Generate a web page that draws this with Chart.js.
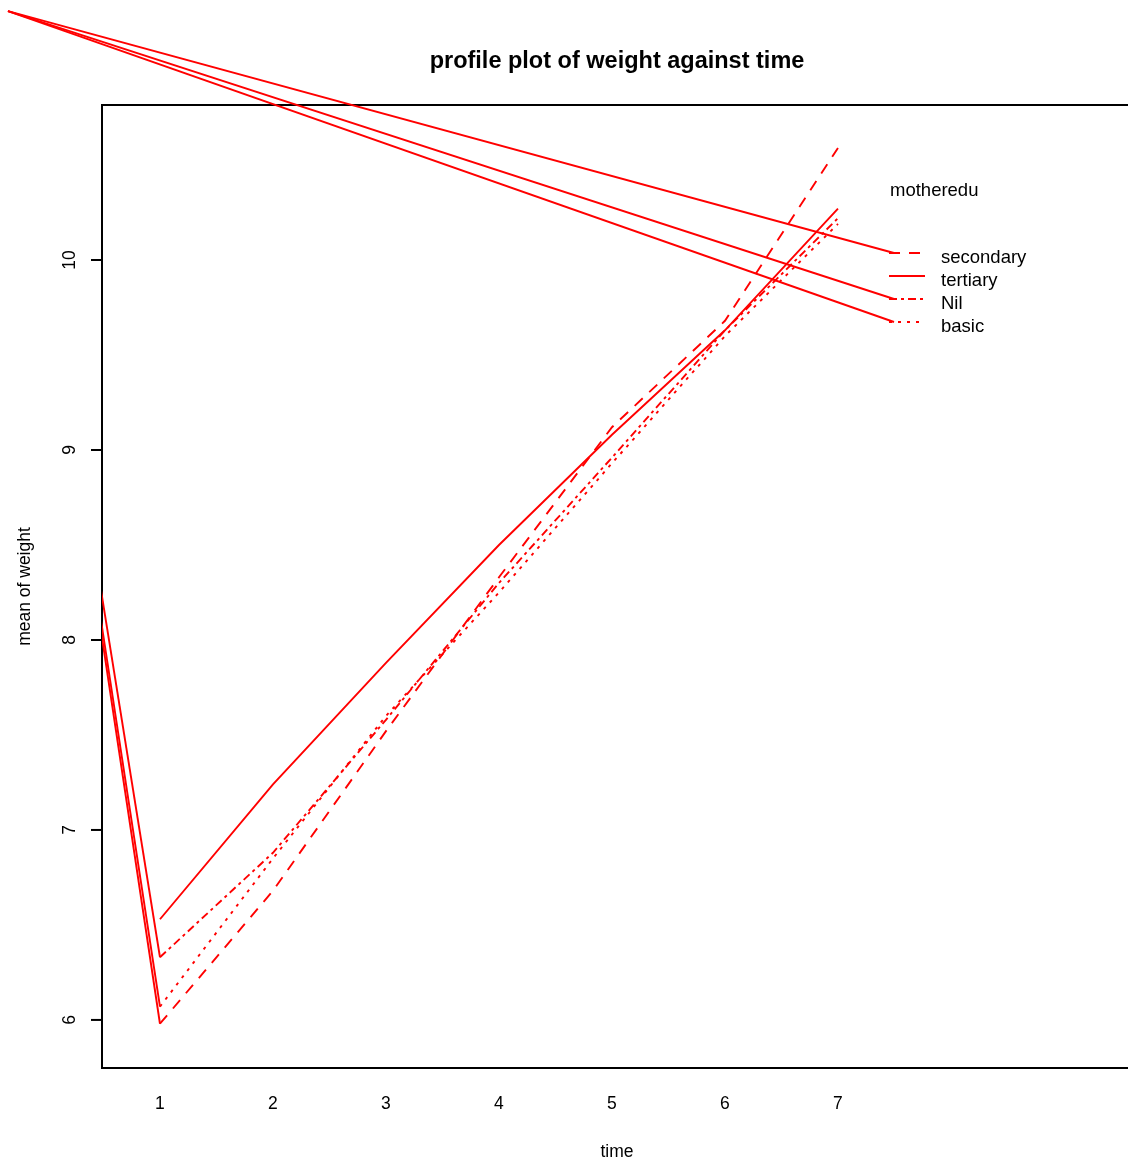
<!DOCTYPE html>
<html>
<head>
<meta charset="utf-8">
<script src="https://cdn.jsdelivr.net/npm/chart.js@4/dist/chart.umd.min.js"></script>
<style>
  html, body { margin: 0; padding: 0; background: #fff; overflow: hidden; }
  canvas { display: block; }
</style>
</head>
<body>
<canvas id="c" width="1140" height="1163" style="width:1140px;height:1163px"></canvas>
<script>
// Mean weight by time for each level of mother's education
const timePoints = [1, 2, 3, 4, 5, 6, 7];
const timeLabels = ['1', '2', '3', '4', '5', '6', '7'];
const weightTicks = [6, 7, 8, 9, 10];
const groupNames = ['secondary', 'tertiary', 'Nil', 'basic'];
const secondary = [5.98, 6.68, 7.52, 8.33, 9.12, 9.68, 10.59];
const tertiary  = [6.53, 7.24, 7.88, 8.50, 9.08, 9.63, 10.27];
const nil       = [6.33, 6.88, 7.58, 8.30, 8.96, 9.63, 10.22];
const basic     = [6.07, 6.85, 7.60, 8.25, 8.93, 9.60, 10.19];
// point the device pen started from before tracing some of the groups
const penOrigin = { time: -0.345, weight: 11.31 };
const groupsWithStrayPen = ['secondary', 'Nil', 'basic'];

const groupValues = { secondary, tertiary, Nil: nil, basic };
const RED = '#ff0000';
const LINE_W = 1.9;
const dashFor = {
  secondary: [11, 9],
  tertiary: [],
  Nil: [8, 4, 3, 4],
  basic: [3, 6]
};
const FONT = '"Liberation Sans", Arial, Helvetica, sans-serif';

const datasets = [];
groupNames.forEach(name => {
  const vals = groupValues[name];
  datasets.push({
    label: name,
    data: timePoints.map((t, i) => ({ x: t, y: vals[i] })),
    borderColor: RED,
    borderWidth: LINE_W,
    borderDash: dashFor[name],
    pointRadius: 0,
    fill: false,
    tension: 0
  });
  if (groupsWithStrayPen.includes(name)) {
    datasets.push({
      label: name + ' pen',
      data: [{ x: penOrigin.time, y: penOrigin.weight }, { x: timePoints[0], y: vals[0] }],
      borderColor: RED,
      borderWidth: LINE_W,
      pointRadius: 0,
      fill: false,
      tension: 0
    });
  }
});

// Frame, axes, titles and the group key
const decor = {
  id: 'decor',
  beforeDatasetsDraw(chart) {
    const { ctx, chartArea: a, scales: { x, y } } = chart;
    ctx.save();
    ctx.strokeStyle = '#000';
    ctx.lineWidth = 2;
    ctx.strokeRect(a.left, a.top, a.right - a.left, a.bottom - a.top);

    ctx.fillStyle = '#000';
    ctx.font = '17.5px ' + FONT;
    ctx.textAlign = 'center';
    ctx.textBaseline = 'middle';
    weightTicks.forEach(v => {
      const py = y.getPixelForValue(v);
      ctx.beginPath();
      ctx.moveTo(a.left - 11, py);
      ctx.lineTo(a.left, py);
      ctx.stroke();
      ctx.save();
      ctx.translate(a.left - 32, py);
      ctx.rotate(-Math.PI / 2);
      ctx.fillText(String(v), 0, 0);
      ctx.restore();
    });
    timePoints.forEach((t, i) => {
      ctx.fillText(timeLabels[i], x.getPixelForValue(t), a.bottom + 36);
    });
    const cx = (a.left + a.right) / 2;
    ctx.fillText('time', cx, a.bottom + 84);
    ctx.save();
    ctx.translate(25, (a.top + a.bottom) / 2);
    ctx.rotate(-Math.PI / 2);
    ctx.fillText('mean of weight', 0, 0);
    ctx.restore();

    ctx.font = 'bold 23.5px ' + FONT;
    ctx.fillText('profile plot of weight against time', cx, 62);
    ctx.restore();
  },
  afterDatasetsDraw(chart) {
    const { ctx, chartArea: a, scales: { x, y } } = chart;
    const keyLeft = a.left + 787;
    const keyRight = keyLeft + 36;
    const textLeft = keyLeft + 52;
    const ox = x.getPixelForValue(penOrigin.time);
    const oy = y.getPixelForValue(penOrigin.weight);
    ctx.save();
    ctx.fillStyle = '#000';
    ctx.font = '18.5px ' + FONT;
    ctx.textAlign = 'left';
    ctx.textBaseline = 'middle';
    ctx.fillText('motheredu', keyLeft + 1, a.top + 86);

    groupNames.forEach((name, i) => {
      const ry = a.top + 148 + 23 * i;
      ctx.strokeStyle = RED;
      ctx.lineWidth = LINE_W;
      if (groupsWithStrayPen.includes(name)) {
        ctx.setLineDash([]);
        ctx.beginPath();
        ctx.moveTo(ox, oy);
        ctx.lineTo(keyLeft + 5, ry);
        ctx.stroke();
      }
      ctx.setLineDash(dashFor[name]);
      ctx.beginPath();
      ctx.moveTo(keyLeft, ry);
      ctx.lineTo(keyRight, ry);
      ctx.stroke();
      ctx.setLineDash([]);
      ctx.fillStyle = '#000';
      ctx.fillText(name, textLeft, ry + 5);
    });
    ctx.restore();
  }
};

new Chart(document.getElementById('c'), {
  type: 'line',
  data: { datasets },
  options: {
    responsive: false,
    animation: false,
    devicePixelRatio: 1,
    layout: { padding: { left: 102, top: 105, right: 8, bottom: 95 } },
    plugins: { legend: { display: false }, title: { display: false }, tooltip: { enabled: false } },
    scales: {
      x: { type: 'linear', display: false, min: 0.487, max: 9.602 },
      y: { type: 'linear', display: false, min: 5.747, max: 10.816 }
    }
  },
  plugins: [decor]
});
</script>
</body>
</html>
